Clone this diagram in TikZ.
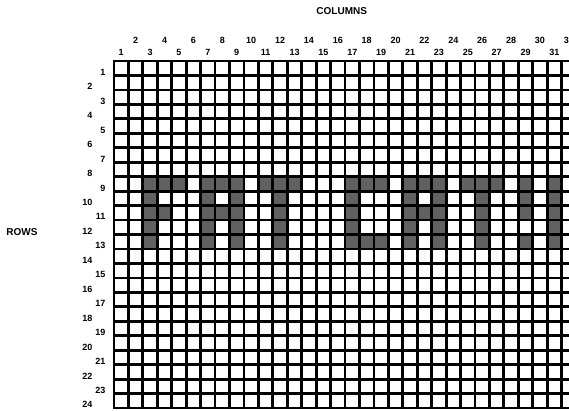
\documentclass[tikz,border=0pt]{standalone}
\usepackage{fontspec}
\setmainfont{Liberation Sans}
\begin{document}
\begin{tikzpicture}[x=1pt,y=1pt,
  gridline/.style={line width=2.8pt,black},
  cellfill/.style={fill=black!62},
  numlab/.style={font=\fontsize{9}{10}\selectfont\bfseries,inner sep=0pt},
  titlelab/.style={font=\fontsize{10}{11}\selectfont\bfseries,inner sep=0pt}]
\useasboundingbox (0,0) rectangle (569,410);
\clip (0,0) rectangle (569,410);
\def\cw{14.44}
\def\rh{14.46}
\def\gx{114}
\def\gy{349}
% shaded cells
\foreach \c/\r in {3/9,4/9,5/9,3/10,3/11,4/11,3/12,3/13,
  7/9,8/9,9/9,7/10,9/10,7/11,8/11,9/11,7/12,9/12,7/13,9/13,
  11/9,12/9,13/9,12/10,12/11,12/12,12/13,
  17/9,18/9,19/9,17/10,17/11,17/12,17/13,18/13,19/13,
  21/9,22/9,23/9,21/10,23/10,21/11,22/11,23/11,21/12,23/12,21/13,23/13,
  25/9,26/9,27/9,26/10,26/11,26/12,26/13,
  29/9,29/10,29/11,29/13,31/9,31/10,31/11,31/12,31/13}{
  \fill[cellfill] ({\gx+(\c-1)*\cw},{\gy-(\r-1)*\rh}) rectangle ({\gx+\c*\cw},{\gy-\r*\rh});
}
% grid
\foreach \k in {0,...,31}{
  \draw[gridline,line cap=rect] ({\gx+\k*\cw},{\gy}) -- ({\gx+\k*\cw},{\gy-24*\rh});
}
\foreach \j in {0,...,24}{
  \draw[gridline,line cap=rect] ({\gx},{\gy-\j*\rh}) -- (575,{\gy-\j*\rh});
}
% column labels
\foreach \c in {1,3,...,31}{
  \node[numlab] (cl\c) at ({\gx+(\c-0.5)*\cw},357.5) {\c};
}
\foreach \c in {2,4,...,32}{
  \node[numlab] (cl\c) at ({\gx+(\c-0.5)*\cw},370) {\c};
}
% row labels
\foreach \r in {1,3,...,23}{
  \node[numlab,anchor=east] (rl\r) at (105.5,{\gy-(\r-0.5)*\rh-4}) {\r};
}
\foreach \r in {2,4,...,24}{
  \node[numlab,anchor=east] (rl\r) at (92.5,{\gy-(\r-0.5)*\rh-4}) {\r};
}
\node[titlelab] (coltitle) at (341.7,399) {COLUMNS};
\node[titlelab] (rowtitle) at (22,178) {ROWS};
\end{tikzpicture}
\end{document}
